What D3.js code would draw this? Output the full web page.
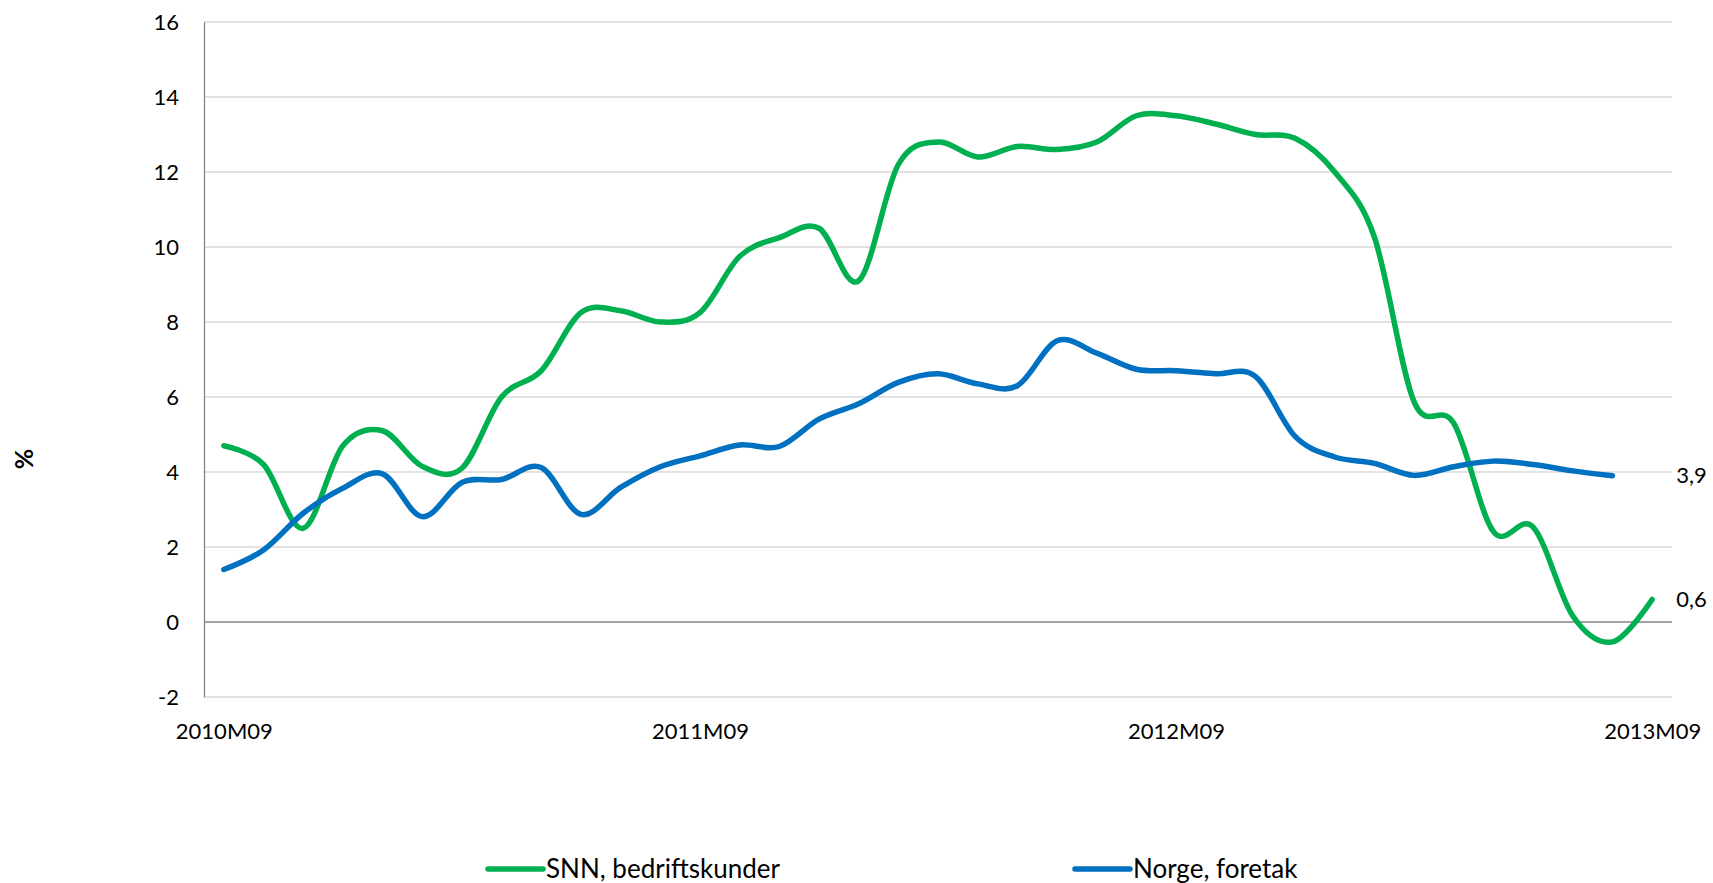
<!DOCTYPE html>
<html>
<head>
<meta charset="utf-8">
<script src="https://cdn.jsdelivr.net/npm/d3@7"></script>
<style>
  html, body { margin: 0; padding: 0; background: #ffffff; }
  svg { display: block; }
  text { font-family: Lato, "Open Sans", sans-serif; fill: #000; }
</style>
</head>
<body>
<svg id="chart" width="1713" height="883"></svg>
<script>
// ---- Data ----
const categories = [
  "2010M09","2010M10","2010M11","2010M12",
  "2011M01","2011M02","2011M03","2011M04","2011M05","2011M06","2011M07","2011M08","2011M09","2011M10","2011M11","2011M12",
  "2012M01","2012M02","2012M03","2012M04","2012M05","2012M06","2012M07","2012M08","2012M09","2012M10","2012M11","2012M12",
  "2013M01","2013M02","2013M03","2013M04","2013M05","2013M06","2013M07","2013M08","2013M09"
];
const snnValues = [
  4.7, 4.2, 2.5, 4.7, 5.1, 4.15, 4.1, 6.0, 6.7, 8.25,
  8.3, 8.0, 8.25, 9.75, 10.25, 10.5, 9.1, 12.2, 12.8, 12.4,
  12.68, 12.6, 12.8, 13.5, 13.5, 13.28, 13.0, 12.9, 12.0, 10.26,
  5.87, 5.3, 2.41, 2.53, 0.16, -0.53, 0.6
];
const norgeValues = [
  1.4, 1.92, 2.9, 3.57, 3.95, 2.81, 3.72, 3.8, 4.12, 2.87,
  3.59, 4.14, 4.43, 4.72, 4.68, 5.41, 5.82, 6.39, 6.62, 6.35,
  6.3, 7.5, 7.17, 6.74, 6.7, 6.62, 6.55, 4.95, 4.4, 4.23,
  3.91, 4.14, 4.29, 4.2, 4.03, 3.9
];
const seriesNames = ["SNN, bedriftskunder", "Norge, foretak"];
const seriesColors = ["#00b050", "#0070c0"];
const yTicks = [-2, 0, 2, 4, 6, 8, 10, 12, 14, 16];
const xTickLabels = ["2010M09", "2011M09", "2012M09", "2013M09"];
const yAxisTitle = "%";

// ---- Layout ----
const svg = d3.select("#chart");
const plot = { left: 204, right: 1672, top: 22, bottom: 697 };

const x = d3.scalePoint().domain(categories).range([plot.left, plot.right]).padding(0.5);
const y = d3.scaleLinear().domain([-2, 16]).range([plot.bottom, plot.top]);

const series = [
  { name: seriesNames[0], color: seriesColors[0], values: snnValues },
  { name: seriesNames[1], color: seriesColors[1], values: norgeValues }
];

// gridlines
svg.append("g").selectAll("line").data(yTicks.filter(d => d !== 0)).join("line")
  .attr("x1", plot.left).attr("x2", plot.right)
  .attr("y1", d => y(d)).attr("y2", d => y(d))
  .attr("stroke", "#d9d9d9").attr("stroke-width", 1.3);

// y axis
const yAxis = svg.append("g").attr("transform", `translate(${plot.left},0)`)
  .call(d3.axisLeft(y).tickValues(yTicks).tickSize(0).tickPadding(25).tickFormat(d => String(d)));
yAxis.select(".domain").attr("stroke", "#868686").attr("stroke-width", 1.3);
yAxis.selectAll("text").attr("font-size", 22).attr("font-family", "Lato, sans-serif").attr("fill", "#000");

// zero line (category axis)
svg.append("line")
  .attr("x1", plot.left).attr("x2", plot.right)
  .attr("y1", y(0)).attr("y2", y(0))
  .attr("stroke", "#868686").attr("stroke-width", 1.3);

// x axis labels
const xAxis = svg.append("g").attr("transform", `translate(0,${plot.bottom})`)
  .call(d3.axisBottom(x).tickValues(xTickLabels).tickSize(0));
xAxis.select(".domain").remove();
xAxis.selectAll("text")
  .attr("font-size", 22).attr("font-family", "Lato, sans-serif").attr("fill", "#000")
  .attr("dy", null).attr("y", 42);

// y axis title
svg.append("text")
  .attr("transform", `translate(33,459) rotate(-90)`)
  .attr("text-anchor", "middle")
  .attr("font-size", 25).attr("font-weight", "bold")
  .text(yAxisTitle);

// lines
const line = d3.line()
  .x((d, i) => x(categories[i]))
  .y(d => y(d))
  .curve(d3.curveCardinal.tension(0));

svg.append("g").selectAll("path").data(series).join("path")
  .attr("d", s => line(s.values))
  .attr("fill", "none")
  .attr("stroke", s => s.color)
  .attr("stroke-width", 5.5)
  .attr("stroke-linecap", "round")
  .attr("stroke-linejoin", "round");

// end labels
const fmt = d3.formatLocale({ decimal: ",", thousands: " ", grouping: [3], currency: ["", ""] }).format(".1f");
svg.append("g").selectAll("text").data(series).join("text")
  .attr("x", x(categories[categories.length - 1]) + 24)
  .attr("y", s => y(s.values[s.values.length - 1]))
  .attr("dy", "0.35em")
  .attr("font-size", 22)
  .text(s => fmt(s.values[s.values.length - 1]));

// legend
const legendPos = [488, 1075];
const lg = svg.append("g").selectAll("g").data(series).join("g")
  .attr("transform", (s, i) => `translate(${legendPos[i]},869)`);
lg.append("line").attr("x1", 0).attr("x2", 55).attr("y1", 0).attr("y2", 0)
  .attr("stroke", s => s.color).attr("stroke-width", 5.5).attr("stroke-linecap", "round");
lg.append("text").attr("x", 58).attr("dy", "0.35em").attr("font-size", 26).text(s => s.name);
</script>
</body>
</html>
